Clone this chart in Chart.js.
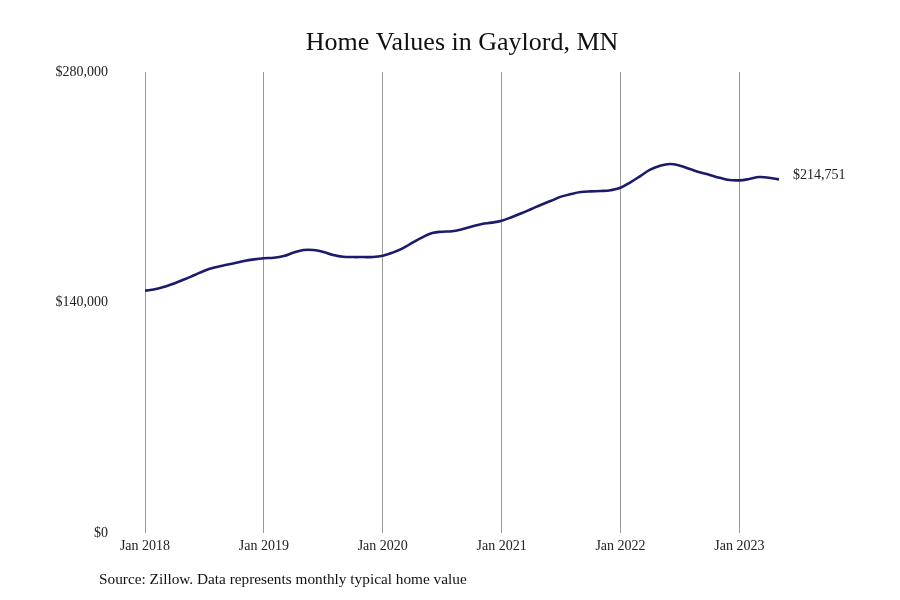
<!DOCTYPE html>
<html>
<head>
<meta charset="utf-8">
<script src="https://cdn.jsdelivr.net/npm/chart.js@4"></script>
<style>
  html, body { margin: 0; padding: 0; background: #fff; }
  #chart { display: block; }
</style>
</head>
<body>
<canvas id="chart" width="900" height="600"></canvas>
<script>
// Monthly typical home value, Jan 2018 .. May 2023 (month index 0..64)
const months = Array.from({ length: 65 }, (_, i) => i);
const values = [
  147200, 148000, 149600, 151700, 154100, 156700, 159300, 161200, 162600, 163800, 165200, 166200,
  166900, 167200, 168200, 170300, 171900, 171900, 170700, 168900, 167800, 167600, 167600, 167600,
  168400, 170300, 172900, 176300, 179600, 182200, 183000, 183300, 184500, 186100, 187700, 188500,
  189700, 191800, 194200, 196800, 199400, 201800, 204300, 205900, 207100, 207500, 207700, 208200,
  209700, 213000, 216800, 220700, 223100, 224100, 223100, 221100, 219100, 217500, 215800, 214400,
  214200, 215000, 216200, 215800, 214751,
];
const tickMonths = [0, 12, 24, 36, 48, 60];
const tickLabels = ['Jan 2018', 'Jan 2019', 'Jan 2020', 'Jan 2021', 'Jan 2022', 'Jan 2023'];
const yTicks = [0, 140000, 280000];

const titleText = 'Home Values in Gaylord, MN';
const sourceText = 'Source: Zillow. Data represents monthly typical home value';

const serif = '"Liberation Serif", "DejaVu Serif", serif';
const navy = '#1b1b6b';

function money(v) {
  return '$' + Number(v).toLocaleString('en-US');
}

const decorations = {
  id: 'decorations',
  afterDraw(chart) {
    const { ctx, chartArea } = chart;
    ctx.save();
    ctx.fillStyle = '#111';
    ctx.font = '26px ' + serif;
    ctx.textAlign = 'center';
    ctx.textBaseline = 'middle';
    ctx.fillText(titleText, (chartArea.left + chartArea.right) / 2, 43);

    ctx.font = '15.3px ' + serif;
    ctx.textAlign = 'left';
    ctx.fillText(sourceText, 99, 580);

    // end-of-line value label
    const meta = chart.getDatasetMeta(0);
    const last = meta.data[meta.data.length - 1];
    ctx.font = '14px ' + serif;
    ctx.fillStyle = '#222';
    ctx.fillText(money(values[values.length - 1]), last.x + 14, last.y - 4);
    ctx.restore();
  },
};

new Chart(document.getElementById('chart'), {
  type: 'line',
  data: {
    datasets: [{
      data: months.map((m, i) => ({ x: m, y: values[i] })),
      borderColor: navy,
      borderWidth: 2.6,
      pointRadius: 0,
      tension: 0.4,
      fill: false,
    }],
  },
  options: {
    responsive: false,
    animation: false,
    devicePixelRatio: 1,
    layout: { padding: { top: 72, right: 121, bottom: 0, left: 0 } },
    plugins: { legend: { display: false }, tooltip: { enabled: false } },
    scales: {
      x: {
        type: 'linear',
        min: 0,
        max: 64,
        afterBuildTicks: (scale) => { scale.ticks = tickMonths.map((v) => ({ value: v })); },
        afterFit: (scale) => { scale.height = 67; },
        ticks: {
          color: '#222',
          padding: 5,
          maxRotation: 0,
          font: { family: serif, size: 14 },
          callback: (v) => tickLabels[tickMonths.indexOf(v)],
        },
        grid: { color: '#999', lineWidth: 1, drawTicks: false },
        border: { display: false },
      },
      y: {
        min: 0,
        max: 280000,
        afterBuildTicks: (scale) => { scale.ticks = yTicks.map((v) => ({ value: v })); },
        afterFit: (scale) => { scale.width = 145; },
        ticks: {
          color: '#222',
          padding: 37,
          font: { family: serif, size: 14 },
          callback: (v) => money(v),
        },
        grid: { display: false, drawTicks: false },
        border: { display: false },
      },
    },
  },
  plugins: [decorations],
});
</script>
</body>
</html>
